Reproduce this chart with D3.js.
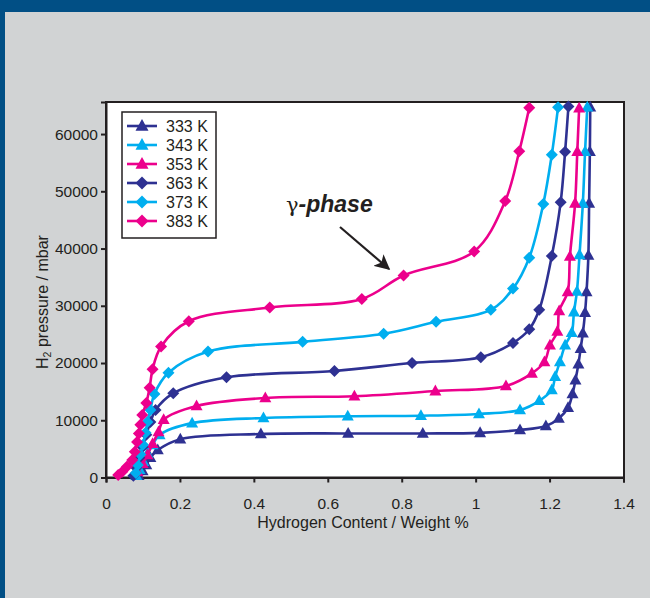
<!DOCTYPE html>
<html>
<head>
<meta charset="utf-8">
<script src="https://cdn.jsdelivr.net/npm/d3@7"></script>
<style>
  html, body { margin: 0; padding: 0; background: #014f85; }
  svg { display: block; font-family: "Liberation Sans", Arial, Helvetica, sans-serif; }
</style>
</head>
<body>
<svg id="chart" width="650" height="598"></svg>
<script>
// isotherm data (x = wt %, y = mbar)
const labels = ["333 K", "343 K", "353 K", "363 K", "373 K", "383 K"];
const colors = ["#2e3192", "#00aeef", "#ec008c", "#2e3192", "#00aeef", "#ec008c"];
const shapes = ["tri", "tri", "tri", "dia", "dia", "dia"];

const x333 = [0.088, 0.099, 0.109, 0.120, 0.140, 0.201, 0.419, 0.655, 0.857, 1.012, 1.120, 1.190, 1.225, 1.250, 1.262, 1.270, 1.278, 1.284, 1.290, 1.296, 1.300, 1.305, 1.307, 1.309, 1.310];
const y333 = [300, 1150, 2200, 3450, 4800, 6700, 7600, 7700, 7700, 7800, 8300, 9000, 10300, 12200, 14600, 17000, 19800, 22500, 25200, 28800, 32400, 38800, 47900, 56900, 64700];

const x343 = [0.082, 0.091, 0.101, 0.112, 0.126, 0.145, 0.233, 0.426, 0.654, 0.852, 1.009, 1.120, 1.172, 1.206, 1.215, 1.228, 1.242, 1.260, 1.266, 1.274, 1.281, 1.290, 1.296, 1.302];
const y343 = [300, 1350, 2750, 4150, 5700, 7450, 9500, 10400, 10700, 10800, 11100, 11800, 13400, 15300, 17600, 20200, 23100, 25300, 28900, 32500, 38900, 47900, 56900, 64700];

const x353 = [0.085, 0.099, 0.112, 0.126, 0.142, 0.156, 0.245, 0.431, 0.672, 0.891, 1.082, 1.152, 1.186, 1.201, 1.221, 1.226, 1.249, 1.255, 1.269, 1.275, 1.280];
const y353 = [1000, 2400, 3950, 5900, 7950, 10100, 12500, 13900, 14200, 15100, 16000, 18200, 20200, 23100, 25500, 29100, 32400, 38600, 47900, 56900, 64500];

const x363 = [0.074, 0.082, 0.090, 0.099, 0.109, 0.120, 0.134, 0.182, 0.326, 0.618, 0.828, 1.014, 1.101, 1.145, 1.172, 1.206, 1.230, 1.242, 1.251];
const y363 = [300, 1700, 3450, 5350, 7450, 9700, 11800, 14700, 17500, 18600, 20000, 21000, 23500, 25900, 29300, 38700, 48100, 56900, 64800];

const x373 = [0.081, 0.086, 0.093, 0.100, 0.107, 0.112, 0.120, 0.131, 0.169, 0.276, 0.532, 0.751, 0.893, 1.041, 1.101, 1.145, 1.183, 1.206, 1.223];
const y373 = [800, 2200, 4000, 5700, 7800, 9700, 11800, 14600, 18300, 22000, 23700, 25100, 27200, 29300, 33000, 38400, 47800, 56400, 64700];

const x383 = [0.033, 0.044, 0.057, 0.071, 0.078, 0.084, 0.089, 0.093, 0.098, 0.109, 0.118, 0.126, 0.149, 0.224, 0.443, 0.692, 0.805, 0.996, 1.080, 1.118, 1.145];
const y383 = [450, 1000, 1900, 3050, 4500, 6200, 7700, 9200, 10900, 13000, 15700, 18900, 22900, 27300, 29700, 31200, 35300, 39500, 48300, 57000, 64600];

const xTicks = [0, 0.2, 0.4, 0.6, 0.8, 1, 1.2, 1.4];
const yTicks = [0, 10000, 20000, 30000, 40000, 50000, 60000];

const seriesX = [x333, x343, x353, x363, x373, x383];
const seriesY = [y333, y343, y353, y363, y373, y383];

const ink = "#231f20";
const svg = d3.select("#chart");

// background: blue frame with grey panel
svg.append("rect").attr("width", 650).attr("height", 598).attr("fill", "#014f85");
svg.append("rect").attr("x", 5).attr("y", 12).attr("width", 645).attr("height", 586).attr("fill", "#d1d3d4");

const x = d3.scaleLinear().domain([0, 1.4]).range([106, 623.5]);
const y = d3.scaleLinear().domain([0, 65600]).range([477.5, 102]);

// plot area
svg.append("rect")
  .attr("x", 106).attr("y", 102)
  .attr("width", 624 - 106).attr("height", 477.5 - 102)
  .attr("fill", "#fff")
  .attr("stroke", ink)
  .attr("stroke-width", 2);

const fmtX = d3.format("~g");

const xAxis = svg.append("g")
  .attr("transform", "translate(0,477.5)")
  .call(d3.axisBottom(x).tickValues(xTicks).tickFormat(fmtX).tickSize(5).tickPadding(15));

const yAxis = svg.append("g")
  .attr("transform", "translate(106,0)")
  .call(d3.axisLeft(y).tickValues(yTicks).tickFormat(d3.format("d")).tickSize(5).tickPadding(3));

[xAxis, yAxis].forEach(g => {
  g.select(".domain").attr("stroke", ink).attr("stroke-width", 2);
  g.selectAll(".tick line").attr("stroke", ink).attr("stroke-width", 2);
  g.selectAll(".tick text").attr("fill", ink).style("font-size", "15.5px")
    .style("font-family", "'Liberation Sans', Arial, sans-serif");
});

// axis titles
svg.append("text")
  .attr("x", 363).attr("y", 528)
  .attr("text-anchor", "middle")
  .attr("fill", ink)
  .style("font-size", "16px")
  .text("Hydrogen Content / Weight %");

const yl = svg.append("text")
  .attr("transform", "translate(48,302) rotate(-90)")
  .attr("text-anchor", "middle")
  .attr("fill", ink)
  .style("font-size", "16px");
yl.append("tspan").text("H");
yl.append("tspan").text("2").style("font-size", "10.5px").attr("dy", 3);
yl.append("tspan").text(" pressure / mbar").attr("dy", -3);

// markers
function marker(kind, r) {
  if (kind === "tri") {
    const h = r * 1.8;
    return `M0,${-h * 0.6}L${r},${h * 0.4}L${-r},${h * 0.4}Z`;
  }
  return `M0,${-r}L${r},0L0,${r}L${-r},0Z`;
}

const line = d3.line()
  .x(d => x(d[0]))
  .y(d => y(d[1]))
  .curve(d3.curveCatmullRom.alpha(0.5));

const plot = svg.append("g");

seriesX.forEach((xs, i) => {
  const pts = xs.map((v, j) => [v, seriesY[i][j]]);
  const g = plot.append("g");
  g.append("path")
    .attr("d", line(pts))
    .attr("fill", "none")
    .attr("stroke", colors[i])
    .attr("stroke-width", 2.6);
  g.selectAll("path.pt")
    .data(pts)
    .join("path")
    .attr("class", "pt")
    .attr("transform", d => `translate(${x(d[0])},${y(d[1])})`)
    .attr("d", marker(shapes[i], 6))
    .attr("fill", colors[i]);
});

// legend
const lg = svg.append("g");
lg.append("rect")
  .attr("x", 122).attr("y", 112)
  .attr("width", 94).attr("height", 126)
  .attr("fill", "#fff")
  .attr("stroke", ink)
  .attr("stroke-width", 1.5);

labels.forEach((lab, i) => {
  const cy = 126 + i * 19;
  lg.append("line")
    .attr("x1", 127).attr("x2", 157)
    .attr("y1", cy).attr("y2", cy)
    .attr("stroke", colors[i]).attr("stroke-width", 2.6);
  lg.append("path")
    .attr("transform", `translate(142,${cy})`)
    .attr("d", marker(shapes[i], 6.5))
    .attr("fill", colors[i]);
  lg.append("text")
    .attr("x", 166).attr("y", cy + 6)
    .attr("fill", ink)
    .style("font-size", "16px")
    .text(lab);
});

// gamma-phase annotation
const ann = svg.append("text")
  .attr("x", 286).attr("y", 212)
  .attr("fill", ink)
  .style("font-size", "23px");
ann.append("tspan").text("γ").style("font-family", "'DejaVu Serif', 'Liberation Serif', serif").style("font-size", "21px");
ann.append("tspan").text("-phase").style("font-weight", "bold").style("font-style", "italic");

svg.append("defs").append("marker")
  .attr("id", "head")
  .attr("viewBox", "0 0 10 10")
  .attr("refX", 9).attr("refY", 5)
  .attr("markerWidth", 7).attr("markerHeight", 7)
  .attr("markerUnits", "strokeWidth")
  .attr("orient", "auto")
  .append("path").attr("d", "M0,0L10,5L0,10L2.5,5Z").attr("fill", ink);

svg.append("line")
  .attr("x1", 340).attr("y1", 227)
  .attr("x2", 389).attr("y2", 269)
  .attr("stroke", ink)
  .attr("stroke-width", 2.2)
  .attr("marker-end", "url(#head)");
</script>
</body>
</html>
